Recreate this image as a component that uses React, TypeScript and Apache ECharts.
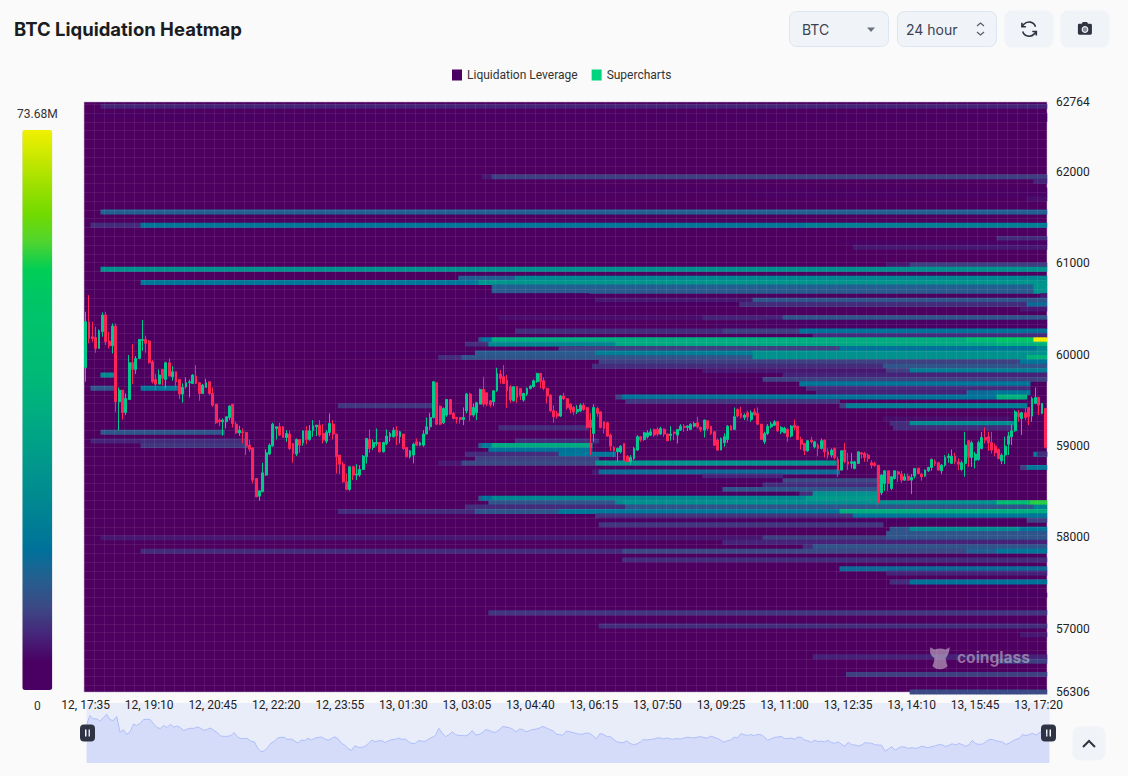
import React, { useEffect, useRef } from "react";
import * as echarts from "echarts";

const priceTicks = [56306, 57000, 58000, 59000, 60000, 61000, 62000, 62764];
const colorStops = [
  "#4a0063", "#4a0063", "#46267a", "#3b4a85", "#245f90", "#00719a", "#007f95", "#008b90", "#00968c", "#00a386", "#00ae80",
  "#00b778", "#00bd72", "#00c26c", "#00c666", "#00cd56", "#50d52f", "#72da00", "#9ce000", "#c8e800", "#f0f000",
];
const maxLeverage = 73.68;
const rowStep = 48.2;
const rowCount = 135;

// one row per 5 minute candle: open, close, low, high
const candles = [
  [59859,60359,59702,60468],[60359,60176,60122,60651],[60195,60176,60140,60359],[60187,60067,60019,60304],
  [60067,60260,60067,60275],[60249,60432,60195,60461],[60432,60140,60103,60468],[60147,60096,60067,60249],
  [60096,60311,60012,60340],[60311,59483,59373,60340],[59483,59610,59172,59640],[59610,59366,59289,59610],
  [59366,59519,59337,59574],[59508,59910,59508,59994],[59910,59837,59676,60114],[59837,59957,59786,59983],
  [59957,60165,59957,60165],[60154,60165,60041,60377],[60165,60122,60019,60205],[60147,59910,59902,60158],
  [59921,59702,59684,59939],[59727,59676,59610,59786],[59676,59775,59676,59837],[59837,59738,59665,59837],
  [59727,59910,59629,59921],[59910,59764,59764,59957],[59757,59811,59713,59873],[59811,59702,59629,59811],
  [59727,59567,59512,59727],[59567,59640,59472,59684],[59647,59691,59629,59749],[59691,59702,59530,59727],
  [59683,59775,59676,59786],[59764,59683,59676,59884],[59691,59574,59494,59691],[59574,59665,59567,59676],
  [59640,59691,59640,59735],[59702,59574,59556,59702],[59574,59446,59428,59640],[59457,59253,59238,59457],
  [59282,59264,59216,59300],[59264,59282,59110,59300],[59264,59318,59191,59318],[59311,59435,59282,59446],
  [59457,59245,59202,59457],[59238,59143,59129,59264],[59143,59172,59110,59220],[59154,59143,59027,59191],
  [59147,59001,58899,59154],[59008,58964,58935,59070],[58979,58625,58588,58979],[58643,58442,58442,58643],
  [58450,58508,58399,58508],[58497,58705,58497,58815],[58680,58924,58672,58961],[58910,59008,58899,59027],
  [59001,59238,58990,59253],[59191,59209,59070,59209],[59209,59118,59107,59253],[59209,59092,59092,59216],
  [59092,59136,59045,59172],[59129,58972,58954,59165],[59027,58917,58815,59027],[58910,59070,58888,59081],
  [59070,59008,58924,59070],[59034,59165,59001,59165],[59165,59070,59019,59216],[59070,59165,59056,59227],
  [59165,59220,59100,59282],[59209,59227,59107,59227],[59227,59118,59100,59282],[59136,59063,59027,59238],
  [59052,59147,59027,59172],[59147,59245,59110,59355],[59238,59129,59070,59282],[59129,58880,58698,59129],
  [58899,58800,58691,58899],[58800,58607,58596,58826],[58607,58523,58515,58698],[58523,58771,58508,58778],
  [58771,58680,58625,58778],[58680,58691,58625,58800],[58680,58742,58661,58789],[58742,58888,58735,58899],
  [58880,59081,58807,59081],[59070,58972,58924,59180],[58983,59037,58953,59070],[59026,59037,58997,59191],
  [59037,58935,58928,59045],[58935,59037,58928,59045],[59026,59107,59008,59180],[59099,59136,59045,59154],
  [59099,59172,59092,59202],[59172,59107,59008,59216],[59099,59154,59027,59165],[59129,58972,58954,59129],
  [58983,58880,58873,58990],[58880,58946,58862,58954],[58899,59019,58808,59034],[59045,59008,58997,59081],
  [59008,59034,58997,59045],[59008,59129,58990,59172],[59129,59209,59129,59311],[59209,59311,59172,59362],
  [59311,59702,59300,59709],[59691,59238,59227,59691],[59435,59238,59227,59443],[59253,59410,59238,59421],
  [59337,59508,59318,59508],[59508,59348,59337,59508],[59355,59300,59289,59373],[59311,59297,59245,59318],
  [59311,59289,59245,59311],[59289,59311,59227,59421],[59384,59567,59355,59581],[59567,59337,59275,59581],
  [59337,59421,59318,59465],[59362,59472,59282,59483],[59457,59618,59457,59629],[59618,59457,59428,59757],
  [59581,59457,59435,59581],[59494,59450,59421,59501],[59483,59603,59435,59610],[59603,59793,59592,59855],
  [59786,59738,59683,59830],[59757,59683,59676,59884],[59720,59603,59417,59775],[59647,59501,59472,59665],
  [59494,59647,59483,59654],[59647,59530,59472,59654],[59629,59545,59501,59629],[59501,59574,59483,59581],
  [59567,59629,59545,59640],[59629,59654,59618,59665],[59647,59713,59640,59727],[59702,59793,59691,59800],
  [59793,59702,59629,59800],[59713,59629,59610,59749],[59629,59545,59465,59636],[59556,59384,59373,59567],
  [59384,59319,59253,59446],[59355,59326,59300,59384],[59326,59545,59318,59556],[59545,59516,59501,59581],
  [59516,59421,59399,59519],[59457,59399,59355,59465],[59421,59373,59337,59435],[59373,59399,59348,59446],
  [59384,59446,59373,59465],[59446,59399,59384,59472],[59421,59202,59191,59421],[59282,59202,58899,59355],
  [59136,59421,59045,59457],[59410,59355,59319,59428],[59373,59202,59191,59373],[59264,59191,59136,59264],
  [59253,59107,59100,59264],[59118,58997,58946,59136],[58983,58946,58873,58997],[58935,58972,58826,58983],
  [58935,58997,58917,59008],[59027,58837,58815,59027],[58888,58826,58808,58899],[58826,58873,58789,58899],
  [58862,58972,58844,58990],[58954,59100,58946,59118],[59100,59063,59045,59107],[59070,59143,59056,59154],
  [59100,59143,59081,59172],[59118,59154,59107,59191],[59180,59118,59100,59191],[59180,59129,59107,59202],
  [59129,59191,59118,59209],[59183,59129,59100,59191],[59129,59056,59056,59136],[59114,59129,59056,59216],
  [59151,59136,59063,59154],[59118,59180,59027,59180],[59172,59216,59165,59238],[59216,59202,59154,59238],
  [59202,59216,59162,59227],[59180,59238,59172,59245],[59216,59245,59202,59264],[59253,59209,59191,59318],
  [59202,59180,59154,59209],[59172,59282,59092,59289],[59275,59191,59165,59282],[59216,59136,59118,59216],
  [59154,59008,58997,59165],[59063,58954,58946,59081],[58954,59081,58954,59092],[59034,59100,58990,59136],
  [59070,59216,59034,59227],[59216,59172,59172,59227],[59180,59319,59172,59421],[59399,59326,59311,59410],
  [59355,59319,59300,59428],[59311,59337,59282,59355],[59362,59319,59275,59384],[59289,59362,59264,59391],
  [59373,59337,59337,59410],[59355,59238,59227,59421],[59238,59070,59070,59238],[59045,59136,59019,59154],
  [59136,59216,59118,59238],[59209,59238,59191,59264],[59227,59264,59216,59282],[59264,59165,59154,59275],
  [59154,59202,59129,59216],[59143,59191,59136,59209],[59180,59100,59045,59191],[59107,59216,59092,59227],
  [59227,59202,59172,59289],[59216,59070,59063,59216],[59070,59019,58961,59100],[59027,58946,58899,59034],
  [58946,59056,58935,59063],[59063,59045,59027,59100],[58990,59045,58972,59056],[59008,58972,58888,59027],
  [58972,59056,58961,59081],[59063,58935,58873,59070],[58935,58899,58862,58972],[58899,58954,58873,58972],
  [58972,58873,58851,58983],[58851,58735,58662,58880],[58735,58946,58727,58954],[58954,58826,58808,59034],
  [58826,58800,58735,58924],[58808,58826,58753,58924],[58753,58826,58742,58837],[58808,58935,58800,58935],
  [58924,58910,58862,58935],[58917,58873,58826,58935],[58899,58862,58826,58917],[58815,58789,58753,58844],
  [58808,58786,58771,58826],[58789,58377,58351,58789],[58486,58680,58461,58691],[58589,58727,58508,58735],
  [58727,58589,58508,58727],[58534,58662,58515,58669],[58643,58727,58632,58735],[58716,58691,58607,58727],
  [58691,58625,58596,58727],[58625,58662,58618,58698],[58669,58625,58618,58698],[58625,58654,58472,58691],
  [58669,58753,58643,58753],[58753,58698,58691,58764],[58691,58662,58618,58705],[58669,58735,58662,58742],
  [58727,58764,58716,58771],[58764,58851,58727,58862],[58826,58808,58778,58851],[58815,58735,58727,58826],
  [58727,58789,58691,58800],[58789,58873,58771,58899],[58873,58888,58815,58917],[58808,58888,58808,58961],
  [58888,58826,58800,58924],[58826,58800,58735,58862],[58742,58815,58727,58837],[58808,59008,58662,59154],
  [59056,58873,58771,59063],[58873,59034,58771,59056],[58844,58910,58753,58935],[58851,59034,58837,59056],
  [58972,59092,58961,59154],[59092,59063,59027,59202],[59100,59034,58946,59154],[59034,58954,58917,59154],
  [58997,58924,58888,59027],[58961,58862,58851,58972],[58837,58899,58800,58917],[58899,58997,58800,59100],
  [59019,59107,58899,59154],[59100,59165,59008,59238],[59165,59373,59154,59391],[59362,59319,59264,59391],
  [59300,59362,59118,59373],[59362,59311,59282,59421],[59421,59319,59227,59421],[59326,59519,59264,59537],
  [59465,59530,59457,59640],[59530,59446,59337,59537],[59355,59465,59348,59465],[59410,58983,58972,59410],
];

// liquidation bands: price, first candle, last candle, leverage in millions
const bands = [
  [62740,5,287,7],[62640,2,287,3],[62590,17,287,3],
  [61954,119,121,6],[61954,122,287,10],[61910,284,287,7],[61822,142,287,2],[61768,200,287,4],[61725,282,287,5],
  [61563,5,287,15],[61417,2,16,8],[61417,17,215,20],[61417,216,287,22],
  [61275,273,287,8],[61234,226,287,4],[61187,230,287,6],
  [60979,240,246,6],[60979,247,287,10],[60935,5,287,28],
  [60837,112,128,15],[60837,129,287,25],[60782,17,117,20],[60782,118,287,29],
  [60727,122,283,15],[60727,284,287,29],[60684,122,283,14],[60684,284,287,28],
  [60625,118,150,3],[60625,286,287,6],[60575,117,152,2],[60575,153,199,6],[60575,200,287,13],
  [60541,113,195,3],[60541,196,281,8],[60541,282,287,17],[60486,280,287,6],
  [60410,124,184,5],[60410,185,208,7],[60410,209,287,13],[60344,203,287,4],[60300,188,287,4],
  [60246,129,190,8],[60246,191,213,10],[60246,214,287,19],[60205,218,287,8],
  [60147,118,118,13],[60147,119,121,20],[60147,122,263,37],[60147,264,272,45],[60147,273,283,52],[60147,284,287,73.68],
  [60103,114,120,8],[60103,121,158,25],[60103,159,272,35],[60103,273,287,39],
  [60060,142,225,10],[60060,226,284,19],[60060,285,287,25],
  [60016,76,116,3],[60016,117,152,14],[60016,153,199,22],[60016,200,287,28],
  [59961,106,112,8],[59961,113,199,13],[59961,200,281,28],[59961,282,287,39],
  [59910,154,279,10],[59910,280,287,20],[59862,152,238,8],[59862,239,287,13],
  [59807,185,239,6],[59807,240,246,10],[59807,247,287,22],[59764,209,287,7],
  [59767,5,8,26],[59713,188,202,3],[59713,203,287,10],[59665,214,282,20],
  [59622,2,8,13],[59622,17,27,20],[59622,216,282,8],
  [59567,219,263,7],[59567,264,271,17],[59567,272,282,20],
  [59520,159,160,10],[59520,161,272,19],[59520,273,281,38],[59478,162,225,9],
  [59424,76,104,9],[59424,226,227,10],[59424,228,281,22],[59282,239,276,5],
  [59238,241,246,8],[59238,247,277,26],[59194,242,277,8],[59183,124,150,8],[59140,5,41,13],
  [59033,2,16,7],[59033,17,48,8],[59033,129,153,8],
  [58986,17,48,9],[58986,118,118,13],[58986,119,121,21],[58986,122,151,36],
  [58935,121,151,19],[58930,284,287,22],[58889,114,141,8],[58889,142,158,20],[58889,285,287,8],
  [58845,117,153,10],[58800,106,112,6],[58800,113,152,11],[58800,153,224,29],
  [58746,280,281,10],[58746,282,287,20],[58702,152,153,6],[58702,154,225,17],[58647,185,208,7],
  [58603,124,208,4],[58603,209,237,11],[58548,203,237,8],[58505,188,190,4],[58505,191,237,13],
  [58453,129,213,3],[58453,214,217,8],[58453,218,237,28],
  [58405,118,118,13],[58405,119,121,19],[58405,122,215,25],[58405,216,237,31],
  [58362,121,158,13],[58362,159,160,25],[58362,161,272,28],[58362,273,282,45],[58362,283,287,57],
  [58318,114,161,8],[58318,162,283,13],[58318,284,287,23],
  [58264,76,116,8],[58264,117,141,13],[58264,142,225,20],[58264,226,287,37],
  [58215,153,229,9],[58215,230,287,20],[58165,154,281,3],[58165,282,287,10],[58125,154,238,9],
  [58066,241,246,13],[58066,247,279,26],[58066,280,287,20],[58020,240,287,13],
  [57975,5,202,6],[57975,203,239,10],[57975,240,287,13],[57924,191,287,7],
  [57875,215,217,8],[57875,218,287,13],
  [57825,17,160,8],[57825,161,263,11],[57825,264,272,15],[57825,273,287,20],[57771,161,287,8],
  [57672,226,287,17],[57584,240,287,7],[57487,241,246,8],[57487,247,287,19],[57355,264,287,3],
  [57180,121,287,9],[57037,154,287,8],[56953,280,287,6],[56708,218,287,7],[56621,273,287,10],
  [56515,226,227,4],[56515,228,287,10],[56316,247,287,11],
];

const pad = (n: number) => String(n).padStart(2, "0");
const timeLabels = candles.map((_, i) => {
  const minutes = 17 * 60 + 35 + i * 5;
  const day = minutes >= 24 * 60 ? 13 : 12;
  const m = minutes % (24 * 60);
  return `${day}, ${pad(Math.floor(m / 60))}:${pad(m % 60)}`;
});
const rowLabels = Array.from({ length: rowCount }, (_, n) => String(56306 + n * rowStep));

const heatData: number[][] = [];
bands.forEach(([price, from, to, value]) => {
  const row = Math.round((price - 56306) / rowStep);
  for (let col = from; col <= to; col++) heatData.push([col, row, value]);
});

echarts.graphic.registerShape("refreshIcon", echarts.graphic.extendPath("M3 4v5h5 M21 20v-5h-5 M20 9A8.5 8.5 0 0 0 5.5 6L3 9 M4 15a8.5 8.5 0 0 0 14.5 3L21 15", {}));
echarts.graphic.registerShape("cameraIcon", echarts.graphic.extendPath("M9 3L7.5 5.5H4Q2 5.5 2 7.5V19Q2 21 4 21H20Q22 21 22 19V7.5Q22 5.5 20 5.5H16.5L15 3Z", {}));
echarts.graphic.registerShape("mascot", echarts.graphic.extendPath("M1 3L5 5Q10 3 15 5L19 3L18 8Q16 12 15 13L16 18L17 20Q14 23 10 23Q6 23 3 20L4 18L5 13Q2 11 1 8Z", {}));

const handlePath = "path://M4 0H11Q15 0 15 4V13Q15 17 11 17H4Q0 17 0 13V4Q0 0 4 0Z M5 5V12H6.5V5Z M8.5 5V12H10V5Z";
const uiFont = "14px Inter";

const button = (x: number, y: number, w: number, h: number, border: boolean) => ({
  type: "rect", z: 20, shape: { x, y, width: w, height: h, r: 7 },
  style: { fill: "#f0f3f8", stroke: border ? "#dde6f0" : "#f0f3f8", lineWidth: 1 },
});

const controls = [
  button(789.5, 11.5, 99, 35, true),
  { type: "text", z: 21, x: 802, y: 22, style: { text: "BTC", font: uiFont, fill: "#3b4252" } },
  { type: "polygon", z: 21, shape: { points: [[867, 27.5], [875, 27.5], [871, 32]] }, style: { fill: "#6b7280" } },
  button(897.5, 11.5, 99, 35, true),
  { type: "text", z: 21, x: 906, y: 22, style: { text: "24 hour", font: uiFont, fill: "#3b4252" } },
  { type: "polyline", z: 21, shape: { points: [[977, 26], [980.5, 23], [984, 26]] }, style: { stroke: "#555c68", fill: "none", lineWidth: 1.2 } },
  { type: "polyline", z: 21, shape: { points: [[977, 32], [980.5, 35], [984, 32]] }, style: { stroke: "#555c68", fill: "none", lineWidth: 1.2 } },
  button(1005, 11, 48, 36, false),
  { type: "refreshIcon", z: 21, x: 1019.5, y: 19.5, scaleX: 0.8, scaleY: 0.8, style: { stroke: "#2f3440", fill: "none", lineWidth: 2 } },
  button(1061, 11, 48, 36, false),
  { type: "cameraIcon", z: 21, x: 1076.5, y: 20, scaleX: 0.7, scaleY: 0.7, style: { fill: "#2f3440" } },
  { type: "circle", z: 22, shape: { cx: 1085, cy: 29.5, r: 2.8 }, style: { fill: "#8a8f9a", stroke: "#f0f3f8", lineWidth: 1.2 } },
  button(1073, 727, 32, 33, false),
  { type: "polyline", z: 21, shape: { points: [[1083, 747], [1089, 741], [1095, 747]] }, style: { stroke: "#2f3440", fill: "none", lineWidth: 2 } },
  { type: "mascot", z: 21, x: 929, y: 644, scaleX: 1.1, scaleY: 1.1, style: { fill: "rgba(214,200,214,0.55)" } },
  { type: "text", z: 21, x: 957, y: 649, style: { text: "coinglass", font: "bold 15.5px Inter", fill: "rgba(214,200,214,0.55)" } },
];

export default function App() {
  const chartRef = useRef<HTMLDivElement | null>(null);

  useEffect(() => {
    if (!chartRef.current) return;
    const chart = echarts.init(chartRef.current, null, { renderer: "svg" });
    const gridLine = { show: true, lineStyle: { color: "rgba(255,255,255,0.07)", width: 1 } };
    const hidden = { axisLine: { show: false }, axisTick: { show: false }, axisLabel: { show: false } };
    const option = {
      animation: false,
      backgroundColor: "#fafafa",
      title: {
        text: "BTC Liquidation Heatmap", left: 9, top: 14,
        textStyle: { fontFamily: "Inter", fontSize: 18.5, fontWeight: 700, color: "#1a1d21" },
      },
      legend: {
        left: 447, top: 64, itemWidth: 10, itemHeight: 11, itemGap: 14, selectedMode: false,
        textStyle: { fontFamily: "Roboto", fontSize: 12, color: "#333" },
        data: [
          { name: "Liquidation Leverage", icon: "rect", itemStyle: { color: "#4a0063", borderWidth: 0 } },
          { name: "Supercharts", icon: "rect", itemStyle: { color: "#00d47f", borderWidth: 0 } },
        ],
      },
      // the heatmap rows sit half a row lower than the price plot, so they get their own grid
      grid: [
        {
          left: 84, right: 81, top: 102, bottom: 84, show: true,
          backgroundColor: "#4e0060", borderColor: "#b9a3c4", borderWidth: 0.5,
        },
        { left: 84, right: 81, top: 99.8, bottom: 81.8 },
      ],
      xAxis: [
        {
          type: "category", data: timeLabels, gridIndex: 0, z: 5,
          axisLine: { show: false }, axisTick: { show: false },
          axisLabel: { interval: 18, color: "#222", fontFamily: "Roboto", fontSize: 12, margin: 7 },
          splitLine: { ...gridLine, interval: 2 },
        },
        { type: "category", data: timeLabels, gridIndex: 1, ...hidden, splitLine: { show: false } },
      ],
      yAxis: [
        { type: "category", data: rowLabels, gridIndex: 1, z: 5, ...hidden, splitLine: { ...gridLine, interval: 1 } },
        {
          type: "value", gridIndex: 0, position: "right", min: 56306, max: 62764,
          axisLine: { show: false }, axisTick: { show: false }, splitLine: { show: false },
          axisLabel: { customValues: priceTicks, formatter: (v: number) => String(v), color: "#222", fontFamily: "Roboto", fontSize: 12, margin: 9 },
        },
      ],
      visualMap: {
        type: "continuous", seriesIndex: 0, dimension: 2, min: 0, max: maxLeverage,
        left: 2, top: 93, itemWidth: 30, itemHeight: 560, calculable: false, realtime: false,
        text: ["73.68M", "0"], textGap: 10,
        textStyle: { fontFamily: "Roboto", fontSize: 12, color: "#333" },
        inRange: { color: colorStops },
      },
      dataZoom: [
        {
          type: "slider", xAxisIndex: [0, 1], filterMode: "none", start: 0, end: 100,
          left: 84, width: 963, top: 703, height: 60, showDetail: false, brushSelect: false,
          moveHandleSize: 0, borderColor: "transparent", backgroundColor: "#e9ecf9", fillerColor: "transparent",
          handleIcon: handlePath, handleSize: 17,
          handleStyle: { color: "#2f3342", borderColor: "#2f3342", borderWidth: 0 },
          dataBackground: { lineStyle: { color: "#aebff9", width: 1, opacity: 1 }, areaStyle: { color: "#d5dcfa", opacity: 1 } },
          selectedDataBackground: { lineStyle: { color: "#aebff9", width: 1, opacity: 1 }, areaStyle: { color: "#d5dcfa", opacity: 1 } },
        },
      ],
      series: [
        {
          name: "Liquidation Leverage", type: "heatmap", xAxisIndex: 1, yAxisIndex: 0, z: 2,
          data: heatData, progressive: 0, emphasis: { disabled: true },
        },
        {
          name: "Supercharts", type: "candlestick", xAxisIndex: 0, yAxisIndex: 1, z: 7,
          data: candles, barWidth: 2.4, large: false, progressive: 0,
          itemStyle: { color: "#00c98d", color0: "#ff2458", borderColor: "#00c98d", borderColor0: "#ff2458", borderWidth: 1 },
        },
      ],
      graphic: controls,
    };
    chart.setOption(option as any);
    return () => chart.dispose();
  }, []);

  return <div ref={chartRef} style={{ position: "fixed", left: 0, top: 0, width: 1128, height: 776 }} />;
}
